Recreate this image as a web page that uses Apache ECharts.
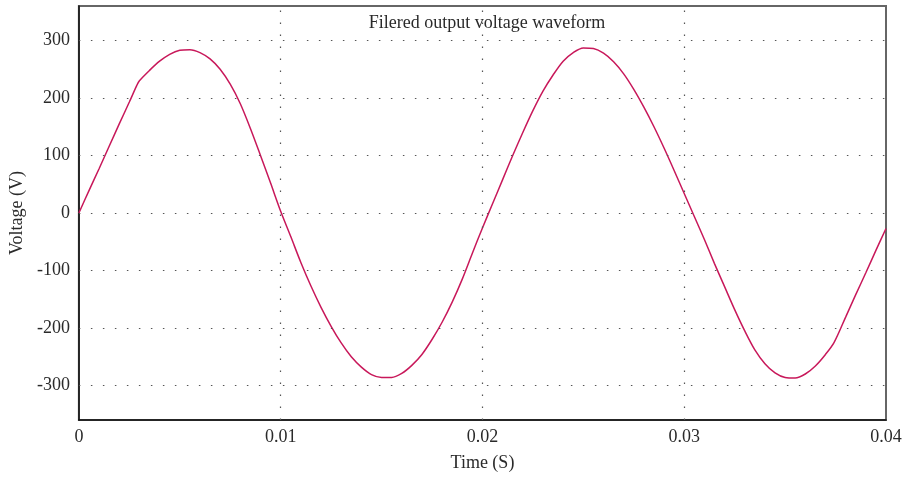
<!DOCTYPE html>
<html><head><meta charset="utf-8">
<script src="https://cdn.jsdelivr.net/npm/echarts@6/dist/echarts.min.js"></script>
<style>html,body{margin:0;padding:0;background:#fff}#c{width:905px;height:477px}</style>
</head><body><div id="c"></div>
<script>
const times = [0,0.0005,0.001,0.0015,0.002,0.0025,0.00287,0.003,0.0035,0.004,0.0045,0.005,0.0055,0.006,0.0065,0.007,0.0075,0.008,0.0085,0.009,0.0095,0.01,
0.0105,0.011,0.0115,0.012,0.0125,0.013,0.0135,0.014,0.0145,0.015,0.0155,0.016,0.0165,0.017,0.0175,0.018,0.0185,0.019,0.0195,0.02,
0.0205,0.021,0.0215,0.022,0.0225,0.023,0.0235,0.024,0.0245,0.025,0.0255,0.026,0.0265,0.027,0.0275,0.028,0.0285,0.029,0.0295,0.03,
0.0305,0.031,0.0315,0.032,0.0325,0.033,0.0335,0.034,0.0345,0.035,0.0355,0.036,0.0365,0.037,0.03743,0.038,0.0385,0.039,0.0395,0.04];
const voltage = [0,39,77,116,155,193,222,230,248,264,276,283,284,279,268,250,224,190,147,100,52,3,
-41,-86,-127,-164,-197,-226,-250,-268,-281,-286,-286,-279,-265,-246,-220,-190,-155,-115,-70,-26,
16,58,100,140,178,212,240,264,279,287,286,278,263,242,215,184,150,113,74,34,
-6,-46,-88,-128,-168,-205,-238,-262,-278,-286,-287,-280,-266,-246,-225,-181,-142,-104,-65,-27];
const yTicks = [-300,-200,-100,0,100,200,300];
const xTicks = [0.01,0.02,0.03];
const xLabels = {0:'0',0.01:'0.01',0.02:'0.02',0.03:'0.03',0.04:'0.04'};

const font = "'Liberation Serif','DejaVu Serif',serif";
const dotted = {color:'#555', width:1.2, type:[1.5,10.5]};
const chart = echarts.init(document.getElementById('c'));
chart.setOption({
  animation:false,
  title:{text:'Filered output voltage waveform', left:482, top:9, textAlign:'center',
    textStyle:{fontFamily:font, fontSize:18, fontWeight:'normal', color:'#2a2a2a'}},
  grid:{left:78, right:19, top:6, bottom:57, show:true, borderColor:'#666', borderWidth:2},
  xAxis:{type:'value', min:0, max:0.04, interval:0.01,
    name:'Time (S)', nameLocation:'middle', nameGap:34,
    nameTextStyle:{fontFamily:font, fontSize:18, color:'#2a2a2a'},
    axisLine:{show:true, onZero:false, lineStyle:{color:'#111', width:1.5}},
    axisTick:{show:false}, splitLine:{show:false},
    axisLabel:{fontFamily:font, fontSize:18, color:'#2a2a2a', margin:8,
      formatter:v=>xLabels[Math.round(v*100)/100] ?? String(v)}},
  yAxis:{type:'value', min:-360, max:360,
    name:'Voltage (V)', nameLocation:'middle', nameGap:52,
    nameTextStyle:{fontFamily:font, fontSize:18, color:'#2a2a2a'},
    axisLine:{show:true, lineStyle:{color:'#111', width:1.5}},
    axisTick:{show:false}, splitLine:{show:false},
    axisLabel:{fontFamily:font, fontSize:18, color:'#2a2a2a', margin:9, customValues:yTicks}},
  series:[
    {type:'line', data:[], silent:true, z:1,
     markLine:{silent:true, symbol:'none', label:{show:false}, lineStyle:dotted, animation:false,
       data:[...yTicks.map(v=>({yAxis:v})), ...xTicks.map(v=>({xAxis:v}))]}},
    {type:'line', z:3, showSymbol:false, symbol:'none', smooth:0.3,
     data:times.map((t,i)=>[t,voltage[i]]),
     lineStyle:{color:'#c8185a', width:1.5}}
  ]
});
</script></body></html>
